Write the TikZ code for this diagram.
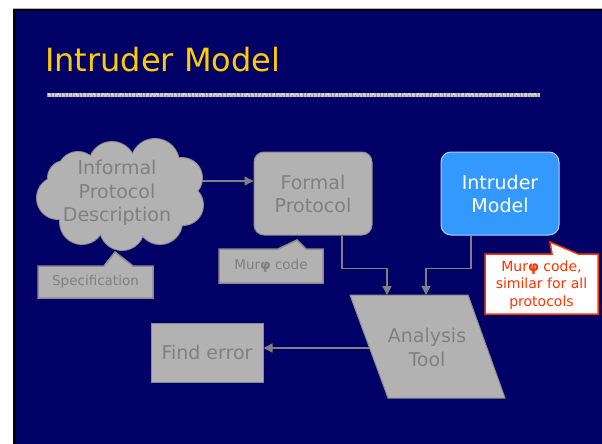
\documentclass[tikz,border=0pt]{standalone}
\usepackage{fontspec}
\setmainfont{DejaVu Sans}
\usetikzlibrary{arrows.meta,backgrounds}

\definecolor{navy}{RGB}{0,0,102}
\definecolor{boxgray}{RGB}{178,178,178}
\definecolor{edgegray}{RGB}{140,140,140}
\definecolor{txtgray}{RGB}{128,128,128}
\definecolor{titlegold}{RGB}{255,204,0}
\definecolor{intblue}{RGB}{51,153,255}
\definecolor{intedge}{RGB}{175,212,255}
\definecolor{notered}{RGB}{255,51,0}

\begin{document}
\begin{tikzpicture}[x=1pt,y=-1pt,
  conn/.style={draw=txtgray, line width=1.5pt, -{Triangle[width=9pt,length=9pt]}},
  graybox/.style={fill=boxgray, draw=edgegray, line width=1pt, text=txtgray,
    align=center, font=\fontsize{19}{23}\selectfont, inner sep=0pt},
  roundbox/.style={graybox, rounded corners=10pt, minimum width=118pt, minimum height=83pt},
  notebox/.style={fill=boxgray, draw=edgegray, line width=1.5pt},
  notetext/.style={text=txtgray, font=\fontsize{13.5}{16}\selectfont, inner sep=0pt},
  rednote/.style={fill=white, draw=notered, line width=1.5pt},
  redtext/.style={text=notered, align=center, font=\fontsize{14}{17.5}\selectfont, inner sep=0pt}]

\useasboundingbox (0,0) rectangle (602,444);

% title and underline
\node[anchor=base west, text=titlegold, font=\fontsize{32}{38}\selectfont, inner sep=0pt]
  (title) at (45,71) {Intruder Model};
\draw[line width=4.5pt, color=gray!45] (47,95) -- (540,95);
\draw[line width=4.5pt, color=gray!85, dash pattern=on 1pt off 2.5pt] (47,95) -- (540,95);
\draw[line width=2pt, color=gray!30, dash pattern=on 1.5pt off 3pt] (48,94) -- (540,94);

% informal description cloud: union of puffs, outlined ones first, then refilled
\def\puffs{78/172/20, 112/165/23, 155/163/24, 182/178/20, 183/205/20,
  160/222/22, 122/228/22, 82/222/22, 58/198/21, 65/178/17}
\foreach \cx/\cy/\r in \puffs
  \draw[draw=edgegray, line width=2pt, fill=boxgray] (\cx,\cy) circle (\r pt);
\foreach \cx/\cy/\r in \puffs
  \fill[boxgray] (\cx,\cy) circle (\r pt);
\fill[boxgray] (120,195) ellipse (65pt and 35pt);
\node[text=txtgray, align=center, font=\fontsize{19}{23.5}\selectfont, inner sep=0pt]
  (cloud) at (117,193) {Informal\\Protocol\\Description};

% formal protocol
\node[roundbox] (formal) at (313,193.5) {Formal\\Protocol};

% intruder model
\node[roundbox, fill=intblue, draw=intedge, text=white] (intruder) at (500,193.5) {Intruder\\Model};

% find error
\node[graybox, minimum width=112pt, minimum height=59pt] (finderr) at (207,352.5) {Find error};

% analysis tool parallelogram
\draw[fill=boxgray, draw=edgegray, line width=1pt]
  (350,295) -- (468,295) -- (505,398) -- (388,398) -- cycle;
\node[text=txtgray, align=center, font=\fontsize{19}{24}\selectfont, inner sep=0pt]
  (tool) at (427,347) {Analysis\\Tool};

% specification callout
\draw[notebox] (38,266) -- (104,266) -- (115,252) -- (133,266) -- (153,266)
  -- (153,298) -- (38,298) -- cycle;
\node[notetext] (spec) at (95.5,282) {Specification};

% Murphi code callout
\draw[notebox] (219,249) -- (278,249) -- (297,240) -- (306,249) -- (323,249)
  -- (323,283) -- (219,283) -- cycle;
\node[notetext] (murcode) at (271,266) {Mur\textbf{φ} code};

% red note
\draw[rednote] (485,254) -- (552,254) -- (550,242) -- (578,254) -- (598,254)
  -- (598,314) -- (485,314) -- cycle;
\node[redtext] (rednotetext) at (541.5,285) {Mur\textbf{φ} code,\\similar for all\\protocols};

% connector end points
\coordinate (cloudout) at (200,181);
\coordinate (inA) at (387,295);
\coordinate (inB) at (426,295);
\coordinate (toolleft) at (369.5,348);

\begin{pgfonlayer}{background}
  \fill[white] (0,0) rectangle (602,444);
  \fill[black] (13,8) rectangle (602,444);
  \fill[navy] (16,11) rectangle (602,444);
  \draw[gray!60, line width=1pt] (13,8.5) -- (602,8.5);
  \draw[conn] (cloudout) -- (formal.west |- cloudout);
  \draw[conn] ([xshift=29pt]formal.south) -- ++(0,33) -| (inA);
  \draw[conn] ([xshift=-29pt]intruder.south) -- ++(0,33) -| (inB);
  \draw[conn] (toolleft) -- (finderr.east |- toolleft);
\end{pgfonlayer}
\end{tikzpicture}
\end{document}
